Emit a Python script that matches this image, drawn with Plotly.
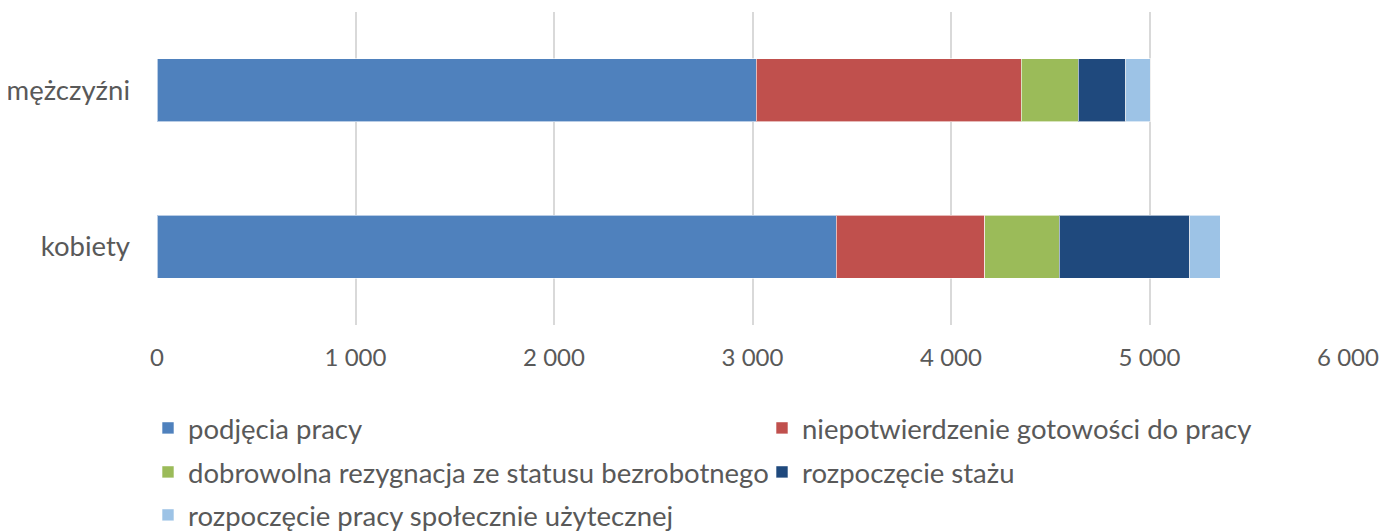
import plotly.graph_objects as go

categories = ["kobiety", "mężczyźni"]
series_names = [
    "podjęcia pracy",
    "niepotwierdzenie gotowości do pracy",
    "dobrowolna rezygnacja ze statusu bezrobotnego",
    "rozpoczęcie stażu",
    "rozpoczęcie pracy społecznie użytecznej",
]
podjecia = [3422, 3020]
niepotwierdzenie = [747, 1335]
dobrowolna = [376, 285]
staz = [658, 241]
psu = [154, 124]
series_values = [podjecia, niepotwierdzenie, dobrowolna, staz, psu]
colors = ["#4F81BD", "#C0504D", "#9BBB59", "#1F497D", "#9DC3E6"]
x_ticks = [0, 1000, 2000, 3000, 4000, 5000, 6000]
x_tick_labels = ["0", "1 000", "2 000", "3 000", "4 000", "5 000", "6 000"]

FONT = "Lato"
W, H = 1379, 523   # page adds an 8px body margin
OFF = 8

leg_pos = [(148, 428), (762, 428), (148, 472), (762, 472), (148, 515)]
leg_ids = ["legend", "legend2", "legend3", "legend4", "legend5"]

fig = go.Figure()
for name, vals, col, lid in zip(series_names, series_values, colors, leg_ids):
    fig.add_trace(go.Bar(
        y=categories, x=vals, name=name, orientation="h", legend=lid,
        showlegend=True,
        marker=dict(color=col, line=dict(color="rgba(255,255,255,0.6)", width=1)),
    ))

layout_legends = {}
for lid, (px, py) in zip(leg_ids, leg_pos):
    layout_legends[lid] = dict(
        x=(px - OFF) / W, xref="container", xanchor="left",
        y=1 - (py - OFF) / H, yref="container", yanchor="middle",
        font=dict(family=FONT, size=27.5, color="#595959"),
        bgcolor="rgba(0,0,0,0)", borderwidth=0,
    )

fig.update_layout(
    showlegend=True,
    barmode="stack",
    bargap=0.6,
    width=W, height=H,
    margin=dict(l=157 - OFF, r=39, t=12 - OFF, b=H - (325 - OFF), autoexpand=False),
    plot_bgcolor="white", paper_bgcolor="white",
    font=dict(family=FONT, size=27.5, color="#595959"),
    xaxis=dict(range=[0, 6000], tickvals=x_ticks, ticktext=x_tick_labels,
               showgrid=True, gridcolor="#D9D9D9", gridwidth=2, zeroline=False,
               showline=False, ticklabelstandoff=16, automargin=False,
               tickfont=dict(size=24)),
    yaxis=dict(showgrid=False, zeroline=False, showline=False,
               ticklabelstandoff=26, automargin=False),
    **layout_legends,
)
fig.write_html("out.html")
